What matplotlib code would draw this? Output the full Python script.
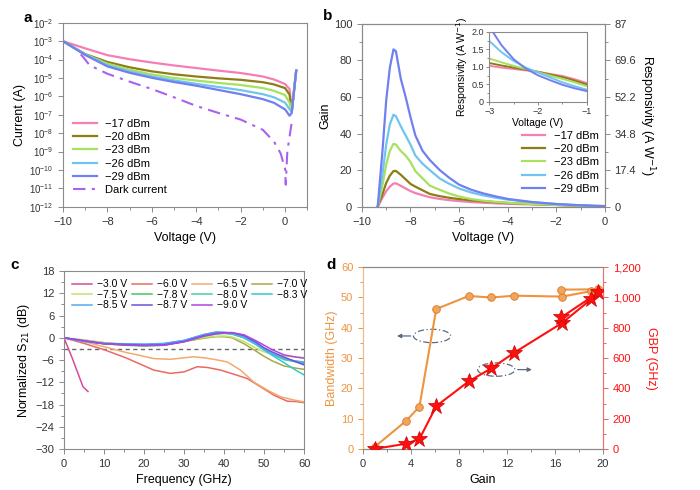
import numpy as np
import matplotlib
matplotlib.use("Agg")
import matplotlib.pyplot as plt
from matplotlib.patches import Ellipse
from matplotlib.ticker import MultipleLocator, FixedLocator, FuncFormatter

plt.rcParams['font.family'] = ['Liberation Sans', 'DejaVu Sans']
plt.rcParams['font.size'] = 8
plt.rcParams['axes.edgecolor'] = '#8a8a8a'
plt.rcParams['xtick.color'] = '#8a8a8a'
plt.rcParams['ytick.color'] = '#8a8a8a'
plt.rcParams['xtick.labelcolor'] = '#333333'
plt.rcParams['ytick.labelcolor'] = '#333333'

###
# DATA
###

powers = ["\u221217 dBm", "\u221220 dBm", "\u221223 dBm", "\u221226 dBm", "\u221229 dBm"]
power_colors = ['#f47fb4', '#8c7e14', '#a8e060', '#70c4f0', '#7080f0']

## panel a: log10 of current (A) vs voltage
v_a = [-10, -9, -8, -7, -6, -5, -4, -3, -2, -1, -0.5, 0, 0.2, 0.3, 0.5]
logI_17 = [-3.0, -3.39, -3.76, -3.98, -4.16, -4.32, -4.46, -4.60, -4.73, -4.92, -5.08, -5.33, -5.60, -6.80, -4.60]
logI_20 = [-3.0, -3.70, -4.13, -4.42, -4.64, -4.80, -4.92, -5.02, -5.10, -5.23, -5.35, -5.55, -5.90, -6.80, -4.60]
logI_23 = [-3.0, -3.72, -4.22, -4.55, -4.81, -5.00, -5.14, -5.27, -5.38, -5.55, -5.70, -5.93, -6.35, -6.80, -4.60]
logI_26 = [-3.0, -3.72, -4.31, -4.65, -4.92, -5.13, -5.32, -5.49, -5.66, -5.88, -6.05, -6.34, -6.70, -6.85, -4.60]
logI_29 = [-3.0, -3.75, -4.37, -4.72, -4.99, -5.22, -5.42, -5.65, -5.88, -6.15, -6.35, -6.71, -7.05, -6.90, -4.60]
v_dark = [-9.2, -9.1, -8.8, -8, -7, -6, -5, -4, -3, -2, -1, -0.5, -0.2, 0, 0.03, 0.06, 0.1, 0.2, 0.3]
logI_dark = [-3.72, -3.85, -4.31, -4.77, -5.2, -5.6, -6.05, -6.52, -6.9, -7.26, -7.82, -8.46, -9.1,
             -9.94, -10.8, -10.0, -9.0, -8.2, -7.4]

## panel b: gain vs voltage
v_b = [-9.35, -9.15, -9.0, -8.85, -8.7, -8.6, -8.4, -8.2, -8.0, -7.8, -7.5, -7.2, -6.8, -6.4, -6.0,
       -5.5, -5.0, -4.5, -4.0, -3.0, -2.0, -1.0, 0]
gain_17 = [0, 5, 8.5, 11, 12.7, 12.8, 11.5, 10, 8.6, 7.5, 6.3, 5.2, 4.3, 3.6, 3.1, 2.6, 2.2, 1.9, 1.6, 1.3, 1.0, 0.6, 0.2]
gain_20 = [0, 7, 13, 17, 19.5, 19.6, 17.5, 15, 12.5, 11, 9.0, 7.0, 5.8, 4.9, 4.2, 3.5, 3.0, 2.5, 2.1, 1.5, 1.0, 0.6, 0.2]
gain_23 = [0, 12, 23, 30.5, 34.4, 34, 30.5, 28, 24.5, 19.5, 15.5, 11.5, 9.3, 7.2, 5.6, 4.2, 3.3, 2.7, 2.2, 1.5, 1.0, 0.5, 0.2]
gain_26 = [0, 18, 34, 45, 50.3, 49.5, 44, 39, 34, 28, 23.5, 20, 15.5, 12.5, 10, 7.8, 6.2, 5.0, 3.9, 2.5, 1.5, 0.8, 0.3]
gain_29 = [0, 31, 58, 76, 86, 85, 70, 60, 49, 39, 30.5, 25.5, 20.1, 15.8, 12.1, 9.3, 7.3, 5.7, 4.3, 2.6, 1.5, 0.8, 0.4]

## panel b inset: responsivity (A/W)
v_in = [-3, -2.75, -2.5, -2.25, -2.0, -1.75, -1.5, -1.25, -1.0]
resp_17 = [1.03, 0.98, 0.94, 0.90, 0.86, 0.80, 0.74, 0.65, 0.54]
resp_20 = [1.11, 1.04, 0.98, 0.92, 0.86, 0.78, 0.71, 0.61, 0.50]
resp_23 = [1.24, 1.13, 1.03, 0.94, 0.85, 0.75, 0.66, 0.56, 0.45]
resp_26 = [1.74, 1.42, 1.17, 0.98, 0.84, 0.70, 0.56, 0.45, 0.35]
resp_29 = [2.15, 1.62, 1.22, 0.95, 0.76, 0.62, 0.49, 0.39, 0.31]

## panel c: normalized S21 (dB) vs frequency (GHz)
f_m30 = [0, 2, 4.75, 6]
s21_m30 = [0, -5.3, -13.2, -14.5]
f_m60 = [0, 5, 10, 15.7, 22.4, 26.6, 30, 33.3, 35.8, 39.1, 42.4, 45.8, 49.1, 52.5, 55.8, 58, 60]
s21_m60 = [0, -1.5, -3.2, -5.5, -8.7, -9.6, -9.2, -7.8, -8.0, -8.7, -9.8, -11.0, -13.2, -15.5, -17.1, -17.2, -17.5]
f_m65 = [0, 5, 10, 15.7, 20, 22.4, 26.6, 30, 32.4, 35, 37.4, 40.8, 44.1, 47.4, 50.8, 54.1, 57.5, 60]
s21_m65 = [0, -1.0, -2.4, -4.0, -5.0, -5.6, -5.8, -5.4, -5.1, -5.4, -5.8, -6.5, -8.7, -11.9, -14.1, -15.9, -16.8, -17.3]
f_c = [0, 5, 10, 15, 20, 25, 30, 35, 38, 40, 42, 45, 48, 50, 52, 55, 58, 60]
s21_m70 = [0, -0.6, -1.3, -1.8, -2.0, -1.9, -1.0, -0.1, 0.3, 0.3, 0.0, -1.6, -3.6, -5.0, -6.2, -7.6, -8.2, -8.5]
s21_m75 = [0, -0.7, -1.4, -1.8, -2.0, -1.8, -0.9, 0.1, 0.4, 0.5, 0.2, -1.0, -2.8, -3.8, -4.4, -4.9, -5.2, -5.3]
s21_m78 = [0, -0.8, -1.6, -2.0, -2.2, -2.0, -1.0, 0.4, 1.0, 1.2, 1.0, 0.0, -1.8, -3.2, -4.4, -5.8, -6.5, -6.9]
s21_m80 = [0, -0.9, -1.5, -1.7, -1.9, -1.8, -0.9, 0.6, 1.3, 1.3, 1.1, 0.1, -1.7, -3.1, -4.4, -5.9, -6.3, -6.5]
s21_m83 = [0, -1.0, -1.6, -1.7, -1.8, -1.6, -0.7, 0.9, 1.5, 1.4, 1.1, 0.0, -1.8, -3.3, -4.7, -6.7, -8.8, -10.0]
s21_m85 = [0, -0.9, -1.5, -1.6, -1.7, -1.5, -0.7, 0.9, 1.6, 1.5, 1.3, 0.3, -1.5, -3.0, -4.2, -5.6, -6.3, -6.7]
s21_m87 = [0, -0.8, -1.6, -1.8, -2.0, -1.9, -1.0, 0.6, 1.2, 1.4, 1.4, 0.6, -1.2, -2.7, -3.8, -5.2, -6.5, -7.3]
s21_m90 = [0, -0.8, -1.6, -1.9, -2.1, -2.0, -1.1, 0.5, 1.1, 1.3, 1.4, 0.8, -0.8, -2.0, -3.2, -4.6, -5.2, -5.5]
bias_labels = ["\u22123.0 V", "\u22126.0 V", "\u22126.5 V", "\u22127.0 V", "\u22127.5 V", "\u22127.8 V",
               "\u22128.0 V", "\u22128.3 V", "\u22128.5 V", "\u22128.7 V", "\u22129.0 V"]
bias_colors = ['#d8489c', '#ea6a62', '#f2aa70', '#aaa844', '#c4e272', '#44c85c',
               '#44d0a2', '#34c8d2', '#54aaf2', '#7050e0', '#b044e0']

## panel d: bandwidth and gain-bandwidth product vs gain (path order as drawn)
gain_d = [1.0, 3.6, 4.7, 6.1, 8.8, 10.7, 12.6, 16.6, 19.0, 19.6, 16.5]
bw_d = [0.8, 9.3, 14.0, 46.2, 50.5, 50.0, 50.6, 50.3, 52.1, 52.7, 52.6]
gbp_d = [1, 35, 66, 283, 446, 533, 636, 833, 988, 1033, 868]


def style_axes(ax):
    ax.tick_params(which='both', direction='out', width=0.7)
    ax.tick_params(which='major', length=3.5)
    ax.tick_params(which='minor', length=2)
    for s in ax.spines.values():
        s.set_linewidth(0.8)


fig = plt.figure(figsize=(7, 4.9), dpi=100)

###
# PANEL A
###
ax = fig.add_axes([0.090, 0.578, 0.349, 0.3755])
ax.plot(v_dark, 10 ** np.array(logI_dark), color='#a862f0', lw=1.5, ls=(0, (6, 3, 1.5, 3)),
        label='Dark current', zorder=2)
for logI, lab, col in zip([logI_17, logI_20, logI_23, logI_26, logI_29], powers, power_colors):
    ax.plot(v_a, 10 ** np.array(logI), color=col, lw=1.6, label=lab, zorder=3)
ax.set_yscale('log')
ax.set_ylim(1e-12, 1e-2)
ax.set_xlim(-10, 1)
ax.yaxis.set_major_locator(FixedLocator([10.0 ** k for k in range(-12, -1)]))
ax.yaxis.set_minor_locator(FixedLocator([]))
ax.xaxis.set_major_locator(MultipleLocator(2))
ax.xaxis.set_minor_locator(MultipleLocator(1))
ax.set_xlabel('Voltage (V)', fontsize=9)
ax.set_ylabel('Current (A)', fontsize=9, labelpad=2)
style_axes(ax)
ax.tick_params(axis='y', labelsize=7)
h, l = ax.get_legend_handles_labels()
ax.legend(h[1:] + h[:1], l[1:] + l[:1], loc='lower left', bbox_to_anchor=(0.01, 0.02), frameon=False,
          fontsize=8, handlelength=2.1, labelspacing=0.3, borderaxespad=0.3)
fig.text(0.033, 0.963, 'a', fontsize=11, fontweight='bold', va='center')

###
# PANEL B
###
ax = fig.add_axes([0.517, 0.578, 0.347, 0.3735])
for g, lab, col in zip([gain_17, gain_20, gain_23, gain_26, gain_29], powers, power_colors):
    ax.plot(v_b, g, color=col, lw=1.6, label=lab)
ax.set_xlim(-10, 0)
ax.set_ylim(0, 100)
ax.xaxis.set_major_locator(MultipleLocator(2))
ax.xaxis.set_minor_locator(MultipleLocator(1))
ax.yaxis.set_major_locator(MultipleLocator(20))
ax.yaxis.set_minor_locator(MultipleLocator(10))
ax.set_xlabel('Voltage (V)', fontsize=9)
ax.set_ylabel('Gain', fontsize=9, labelpad=2)
style_axes(ax)
ax.legend(loc='upper left', bbox_to_anchor=(0.64, 0.44), frameon=False, fontsize=8,
          handlelength=2.1, labelspacing=0.3, borderaxespad=0.0)
ax2 = ax.twinx()
ax2.set_ylim(0, 87)
ax2.yaxis.set_major_locator(FixedLocator([0, 17.4, 34.8, 52.2, 69.6, 87]))
ax2.yaxis.set_major_formatter(FuncFormatter(lambda y, p: '%g' % y))
ax2.yaxis.set_minor_locator(FixedLocator([8.7, 26.1, 43.5, 60.9, 78.3]))
ax2.set_ylabel('Responsivity (A W$^{-1}$)', fontsize=9, rotation=270, labelpad=15)
style_axes(ax2)
fig.text(0.461, 0.968, 'b', fontsize=11, fontweight='bold', va='center')

## inset
axi = fig.add_axes([0.699, 0.792, 0.139, 0.143])
for r, col in zip([resp_17, resp_20, resp_23, resp_26, resp_29], power_colors):
    axi.plot(v_in, r, color=col, lw=1.4)
axi.set_xlim(-3, -1)
axi.set_ylim(0, 2.0)
axi.xaxis.set_major_locator(MultipleLocator(1))
axi.xaxis.set_minor_locator(MultipleLocator(0.5))
axi.yaxis.set_major_locator(MultipleLocator(0.5))
axi.yaxis.set_minor_locator(MultipleLocator(0.25))
axi.yaxis.set_major_formatter(FuncFormatter(lambda y, p: '0' if y == 0 else '%.1f' % y))
axi.tick_params(labelsize=6.5, pad=1.5)
axi.set_xlabel('Voltage (V)', fontsize=7.5, labelpad=1)
axi.set_ylabel('Responsivity (A W$^{-1}$)', fontsize=7.5, labelpad=1)
style_axes(axi)
axi.tick_params(which='major', length=2.5)
axi.tick_params(which='minor', length=1.5)

###
# PANEL C
###
ax = fig.add_axes([0.0914, 0.0837, 0.343, 0.363])
curves_c = [(f_m30, s21_m30), (f_m60, s21_m60), (f_m65, s21_m65), (f_c, s21_m70), (f_c, s21_m75),
            (f_c, s21_m78), (f_c, s21_m80), (f_c, s21_m83), (f_c, s21_m85), (f_c, s21_m87), (f_c, s21_m90)]
lines = []
for (f, s), lab, col in zip(curves_c, bias_labels, bias_colors):
    ln, = ax.plot(f, s, color=col, lw=1.1, label=lab)
    lines.append(ln)
ax.axhline(-3, color='#666666', lw=1.0, ls=(0, (3, 2.5)), zorder=0)
ax.set_xlim(0, 60)
ax.set_ylim(-30, 18)
ax.xaxis.set_major_locator(MultipleLocator(10))
ax.xaxis.set_minor_locator(MultipleLocator(5))
ax.yaxis.set_major_locator(MultipleLocator(6))
ax.yaxis.set_minor_locator(MultipleLocator(3))
ax.set_xlabel('Frequency (GHz)', fontsize=9)
ax.set_ylabel('Normalized S$_{21}$ (dB)', fontsize=9, labelpad=2)
style_axes(ax)
order = [0, 4, 8, 1, 5, 9, 2, 6, 10, 3, 7]
ax.legend([lines[i] for i in order], [bias_labels[i] for i in order], ncol=4, loc='upper left',
          bbox_to_anchor=(0.0, 1.0), frameon=False, fontsize=7.5, handlelength=1.9,
          labelspacing=0.05, columnspacing=0.5, handletextpad=0.45, borderaxespad=0.4)
fig.text(0.015, 0.460, 'c', fontsize=11, fontweight='bold', va='center')

###
# PANEL D
###
orange = '#ee9440'
red = '#ff1010'
ax = fig.add_axes([0.5186, 0.0837, 0.343, 0.371])
ax.plot(gain_d, bw_d, color=orange, lw=1.5, marker='o', ms=5.5, mfc='#f2a45a', mec='#d8782a', mew=0.6,
        zorder=3)
ax.set_xlim(0, 20)
ax.set_ylim(0, 60)
ax.xaxis.set_major_locator(MultipleLocator(4))
ax.xaxis.set_minor_locator(MultipleLocator(2))
ax.yaxis.set_major_locator(MultipleLocator(10))
ax.yaxis.set_minor_locator(MultipleLocator(5))
ax.set_xlabel('Gain', fontsize=9)
ax.set_ylabel('Bandwidth (GHz)', fontsize=9, color=orange, labelpad=2)
style_axes(ax)
ax.tick_params(axis='y', which='both', colors=orange, labelcolor=orange)
ax.spines['left'].set_color('#f4b880')

## dash-dot ellipses with arrows
ax.add_patch(Ellipse((5.75, 37.3), 3.1, 4.4, fill=False, ls=(0, (5, 2, 1, 2)), color='#5c6a80', lw=0.9))
ax.annotate('', xy=(2.6, 37.3), xytext=(4.2, 37.3),
            arrowprops=dict(arrowstyle='-|>', color='#5c6a80', lw=0.9, mutation_scale=6))
ax.add_patch(Ellipse((11.1, 26.2), 3.1, 4.4, fill=False, ls=(0, (5, 2, 1, 2)), color='#5c6a80', lw=0.9))
ax.annotate('', xy=(14.3, 26.2), xytext=(12.65, 26.2),
            arrowprops=dict(arrowstyle='-|>', color='#5c6a80', lw=0.9, mutation_scale=6))

ax2 = ax.twinx()
ax2.plot(gain_d, gbp_d, color=red, lw=1.5, marker='*', ms=12, mfc=red, mec='#cc0000', mew=0.5, zorder=3)
ax2.set_ylim(0, 1200)
ax2.yaxis.set_major_locator(MultipleLocator(200))
ax2.yaxis.set_minor_locator(MultipleLocator(100))
ax2.yaxis.set_major_formatter(FuncFormatter(lambda y, p: '{:,.0f}'.format(y)))
ax2.set_ylabel('GBP (GHz)', fontsize=9, color=red, rotation=270, labelpad=12)
style_axes(ax2)
ax2.tick_params(axis='y', which='both', colors='#f06060', labelcolor=red)
ax2.spines['right'].set_color('#f07070')
ax2.spines['left'].set_color('#f4b880')
fig.text(0.466, 0.460, 'd', fontsize=11, fontweight='bold', va='center')

fig.savefig('out.png', dpi=100)
